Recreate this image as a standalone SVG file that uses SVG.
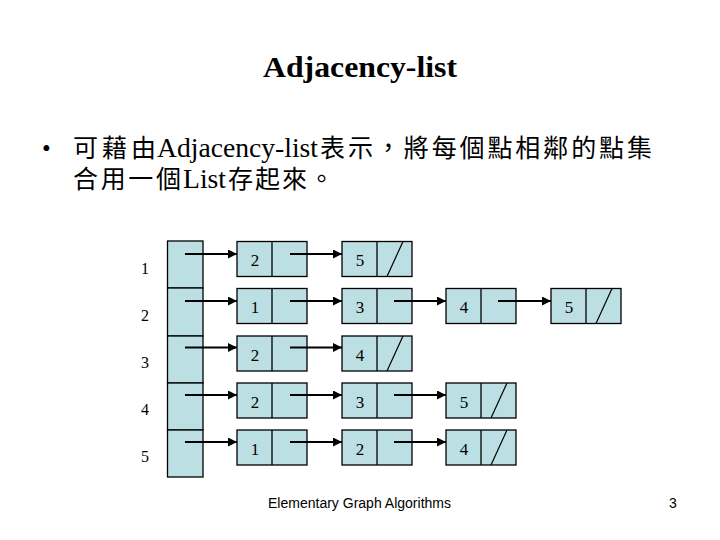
<svg xmlns="http://www.w3.org/2000/svg" width="720" height="540" viewBox="0 0 720 540">
<style>
.cell{fill:#BBDFE2;stroke:#000;stroke-width:1.3}
.div{stroke:#000;stroke-width:1.3}
.slash{stroke:#000;stroke-width:1.2}
.num{font-family:"Liberation Serif","Times New Roman",serif;font-size:17px;fill:#000;text-anchor:middle}
.lbl{font-family:"Liberation Serif","Times New Roman",serif;font-size:16px;fill:#000;text-anchor:middle}
.arrow{stroke:#000;stroke-width:2.2;fill:none;marker-end:url(#ah)}
.title{font-family:"Liberation Serif","Times New Roman",serif;font-weight:bold;font-size:30px;fill:#000}
.body{font-family:"Liberation Serif","Times New Roman","Noto Sans CJK TC",serif;font-size:28px;fill:#000}
.cjk{font-size:25px}
.foot{font-family:"Liberation Sans",Arial,sans-serif;font-size:14px;fill:#000}
</style>
<defs>
<marker id="ah" markerUnits="userSpaceOnUse" markerWidth="9" markerHeight="9" refX="9" refY="4.5" orient="auto">
<path d="M0,0 L9,4.5 L0,9 z" fill="#000"/>
</marker>
</defs>
<rect width="720" height="540" fill="#fff"/>

<g id="title"><text class="title" x="263" y="77" textLength="194" lengthAdjust="spacingAndGlyphs">Adjacency-list</text></g>

<g id="bullet">
<text class="body" x="42" y="157" style="font-size:25px">•</text>
<text class="body" x="72" y="157"><tspan class="cjk" x="73" textLength="83">可藉由</tspan><tspan x="157" textLength="161" lengthAdjust="spacingAndGlyphs">Adjacency-list</tspan><tspan class="cjk" x="320" textLength="332">表示，將每個點相鄰的點集</tspan></text>
<text class="body" x="72" y="188"><tspan class="cjk" x="73" textLength="108">合用一個</tspan><tspan x="183" textLength="43" lengthAdjust="spacingAndGlyphs">List</tspan><tspan class="cjk" x="228" textLength="106">存起來。</tspan></text>
</g>

<g id="labels">
<text class="lbl" x="145" y="274">1</text>
<text class="lbl" x="145" y="321">2</text>
<text class="lbl" x="145" y="368">3</text>
<text class="lbl" x="145" y="415">4</text>
<text class="lbl" x="145" y="462">5</text>
</g>

<g id="head">
<rect class="cell" x="167.5" y="241" width="35.5" height="47"/>
<rect class="cell" x="167.5" y="288" width="35.5" height="48"/>
<rect class="cell" x="167.5" y="336" width="35.5" height="47"/>
<rect class="cell" x="167.5" y="383" width="35.5" height="47"/>
<rect class="cell" x="167.5" y="430" width="35.5" height="47"/>
</g>

<g id="row1">
<g id="n1a"><rect class="cell" x="237" y="241.5" width="70" height="35"/><line class="div" x1="272" y1="241.5" x2="272" y2="276.5"/><text class="num" x="255" y="266">2</text></g>
<g id="n1b"><rect class="cell" x="342" y="241.5" width="70" height="35"/><line class="div" x1="377" y1="241.5" x2="377" y2="276.5"/><text class="num" x="360" y="266">5</text><line class="slash" x1="387" y1="276.5" x2="403" y2="241.5"/></g>
</g>
<g id="row2">
<g id="n2a"><rect class="cell" x="237" y="288.5" width="70" height="35"/><line class="div" x1="272" y1="288.5" x2="272" y2="323.5"/><text class="num" x="255" y="313">1</text></g>
<g id="n2b"><rect class="cell" x="342" y="288.5" width="70" height="35"/><line class="div" x1="377" y1="288.5" x2="377" y2="323.5"/><text class="num" x="360" y="313">3</text></g>
<g id="n2c"><rect class="cell" x="446" y="288.5" width="70" height="35"/><line class="div" x1="481" y1="288.5" x2="481" y2="323.5"/><text class="num" x="464" y="313">4</text></g>
<g id="n2d"><rect class="cell" x="551" y="288.5" width="70" height="35"/><line class="div" x1="586" y1="288.5" x2="586" y2="323.5"/><text class="num" x="569" y="313">5</text><line class="slash" x1="596" y1="323.5" x2="612" y2="288.5"/></g>
</g>
<g id="row3">
<g id="n3a"><rect class="cell" x="237" y="336" width="70" height="35"/><line class="div" x1="272" y1="336" x2="272" y2="371"/><text class="num" x="255" y="360.5">2</text></g>
<g id="n3b"><rect class="cell" x="342" y="336" width="70" height="35"/><line class="div" x1="377" y1="336" x2="377" y2="371"/><text class="num" x="360" y="360.5">4</text><line class="slash" x1="387" y1="371" x2="403" y2="336"/></g>
</g>
<g id="row4">
<g id="n4a"><rect class="cell" x="237" y="383" width="70" height="35"/><line class="div" x1="272" y1="383" x2="272" y2="418"/><text class="num" x="255" y="407.5">2</text></g>
<g id="n4b"><rect class="cell" x="342" y="383" width="70" height="35"/><line class="div" x1="377" y1="383" x2="377" y2="418"/><text class="num" x="360" y="407.5">3</text></g>
<g id="n4c"><rect class="cell" x="446" y="383" width="70" height="35"/><line class="div" x1="481" y1="383" x2="481" y2="418"/><text class="num" x="464" y="407.5">5</text><line class="slash" x1="491" y1="418" x2="507" y2="383"/></g>
</g>
<g id="row5">
<g id="n5a"><rect class="cell" x="237" y="430" width="70" height="35"/><line class="div" x1="272" y1="430" x2="272" y2="465"/><text class="num" x="255" y="454.5">1</text></g>
<g id="n5b"><rect class="cell" x="342" y="430" width="70" height="35"/><line class="div" x1="377" y1="430" x2="377" y2="465"/><text class="num" x="360" y="454.5">2</text></g>
<g id="n5c"><rect class="cell" x="446" y="430" width="70" height="35"/><line class="div" x1="481" y1="430" x2="481" y2="465"/><text class="num" x="464" y="454.5">4</text><line class="slash" x1="491" y1="465" x2="507" y2="430"/></g>
</g>

<g id="connectors">
<line class="arrow" x1="185" y1="254" x2="237" y2="254"/>
<line class="arrow" x1="290" y1="254" x2="342" y2="254"/>
<line class="arrow" x1="185" y1="301" x2="237" y2="301"/>
<line class="arrow" x1="290" y1="301" x2="342" y2="301"/>
<line class="arrow" x1="394" y1="301" x2="446" y2="301"/>
<line class="arrow" x1="498" y1="301" x2="551" y2="301"/>
<line class="arrow" x1="185" y1="347.5" x2="237" y2="347.5"/>
<line class="arrow" x1="290" y1="347.5" x2="342" y2="347.5"/>
<line class="arrow" x1="185" y1="395" x2="237" y2="395"/>
<line class="arrow" x1="290" y1="395" x2="342" y2="395"/>
<line class="arrow" x1="394" y1="395" x2="446" y2="395"/>
<line class="arrow" x1="185" y1="442" x2="237" y2="442"/>
<line class="arrow" x1="290" y1="442" x2="342" y2="442"/>
<line class="arrow" x1="394" y1="442" x2="446" y2="442"/>
</g>

<g id="footer">
<text class="foot" x="268" y="508" textLength="183" lengthAdjust="spacingAndGlyphs">Elementary Graph Algorithms</text>
<text class="foot" x="669" y="508">3</text>
</g>
</svg>
